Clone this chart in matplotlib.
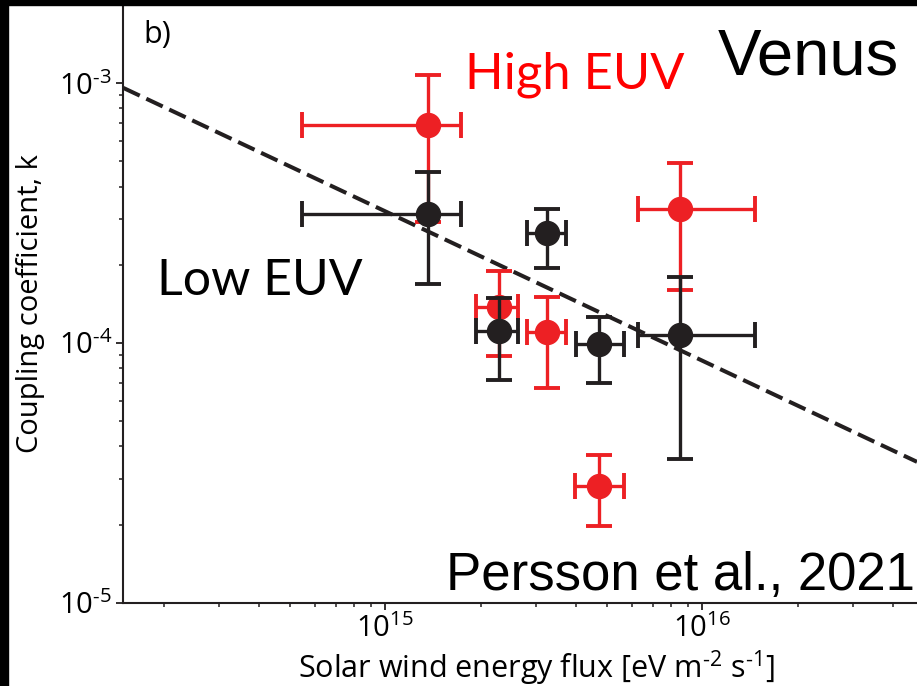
import matplotlib
matplotlib.use("Agg")
import matplotlib.pyplot as plt
import matplotlib.ticker as mticker
from matplotlib.patches import Rectangle
import numpy as np

# solar wind energy flux [eV m^-2 s^-1] and coupling coefficient k
low_flux = [1.363e15, 3.24e15, 2.28e15, 4.71e15, 8.53e15]
low_flux_lo = [5.46e14, 2.80e15, 1.93e15, 4.00e15, 6.27e15]
low_flux_hi = [1.74e15, 3.72e15, 2.63e15, 5.65e15, 1.47e16]
low_k = [3.13e-4, 2.64e-4, 1.11e-4, 9.88e-5, 1.07e-4]
low_k_lo = [1.69e-4, 1.95e-4, 7.23e-5, 7.02e-5, 3.59e-5]
low_k_hi = [4.55e-4, 3.27e-4, 1.49e-4, 1.26e-4, 1.79e-4]

high_flux = [1.363e15, 2.28e15, 3.24e15, 8.53e15, 4.71e15]
high_flux_lo = [5.46e14, 1.93e15, 2.80e15, 6.27e15, 3.98e15]
high_flux_hi = [1.74e15, 2.63e15, 3.72e15, 1.47e16, 5.65e15]
high_k = [6.88e-4, 1.38e-4, 1.10e-4, 3.29e-4, 2.82e-5]
high_k_lo = [2.92e-4, 8.89e-5, 6.71e-5, 1.60e-4, 1.97e-5]
high_k_hi = [1.08e-3, 1.89e-4, 1.50e-4, 4.94e-4, 3.70e-5]

# power law fit k = A * F^B
fit_A = 1.355e5
fit_B = -0.575

xticks = [1e15, 1e16]
xtick_labels = [r'$\mathregular{10^{15}}$', r'$\mathregular{10^{16}}$']
yticks = [1e-5, 1e-4, 1e-3]
ytick_labels = ['$\\mathregular{10^{\u20105}}$', '$\\mathregular{10^{\u20104}}$',
                '$\\mathregular{10^{\u20103}}$']

RED = '#ed2024'
BLK = '#231f20'

plt.rcParams['mathtext.fontset'] = 'custom'
plt.rcParams['mathtext.rm'] = 'Open Sans'
plt.rcParams['font.family'] = 'Open Sans'


def asym(vals, lo, hi):
    v = np.array(vals)
    return np.vstack([v - np.array(lo), np.array(hi) - v])


fig = plt.figure(figsize=(9.17, 6.86), dpi=100)
ax = fig.add_axes([0.1345, 0.1214, 0.8655, 0.8713])
ax.set_xscale('log')
ax.set_yscale('log')
ax.set_xlim(1.493e14, 4.76e16)
ax.set_ylim(1e-5, 2e-3)

# fitted trend
xf = np.logspace(np.log10(1.493e14), np.log10(4.76e16), 50)
ax.plot(xf, fit_A * xf**fit_B, color=BLK, lw=2.9, dashes=(4.5, 1.8), zorder=2)

ekw = dict(fmt='o', ms=17.3, elinewidth=2.4, capsize=9.7, capthick=2.8)
ax.errorbar(high_flux, high_k, xerr=asym(high_flux, high_flux_lo, high_flux_hi),
            yerr=asym(high_k, high_k_lo, high_k_hi), color=RED, zorder=3, **ekw)
ax.errorbar(low_flux, low_k, xerr=asym(low_flux, low_flux_lo, low_flux_hi),
            yerr=asym(low_k, low_k_lo, low_k_hi), color=BLK, zorder=4, **ekw)

ax.set_xticks(xticks)
ax.set_xticklabels(xtick_labels)
ax.set_yticks(yticks)
ax.set_yticklabels(ytick_labels)
ax.xaxis.set_minor_locator(mticker.LogLocator(base=10, subs=np.arange(2, 10)))
ax.yaxis.set_minor_locator(mticker.LogLocator(base=10, subs=np.arange(2, 10)))
ax.xaxis.set_minor_formatter(mticker.NullFormatter())
ax.yaxis.set_minor_formatter(mticker.NullFormatter())
ax.tick_params(which='major', length=5, width=1.3, color=BLK, labelsize=21, pad=3)
ax.tick_params(which='minor', length=3.2, width=1.1, color=BLK)

for s in ['top', 'right']:
    ax.spines[s].set_visible(False)
for s in ['left', 'bottom']:
    ax.spines[s].set_linewidth(1.5)
    ax.spines[s].set_color(BLK)

ax.set_xlabel('Solar wind energy flux [eV m$^{\u20102}$ s$^{\u20101}$]', fontsize=22)
ax.xaxis.set_label_coords(0.521, -0.076)
ax.set_ylabel('Coupling coefficient, k', fontsize=21, labelpad=10)

ax.text(0.025, 0.937, 'b)', transform=ax.transAxes, fontsize=22, va='baseline')
ax.text(0.749, 0.884, 'Venus', transform=ax.transAxes, fontsize=47,
        family='Liberation Sans', va='baseline')
ax.text(0.997, 0.0213, 'Persson et al., 2021', transform=ax.transAxes, fontsize=38,
        family='Liberation Sans', va='baseline', ha='right')
ax.text(0.430, 0.860, 'High EUV', transform=ax.transAxes, fontsize=36.5,
        family='Lato', color='#ff0000', va='baseline')
ax.text(0.043, 0.515, 'Low EUV', transform=ax.transAxes, fontsize=36,
        family='Lato', color='black', va='baseline')

# black frame edges on the left and top
fig.add_artist(Rectangle((0, 0), 8 / 917, 1, transform=fig.transFigure, color='black', zorder=10))
fig.add_artist(Rectangle((0, 1 - 5 / 686), 1, 5 / 686, transform=fig.transFigure, color='black', zorder=10))

fig.savefig('out.png', dpi=100)
